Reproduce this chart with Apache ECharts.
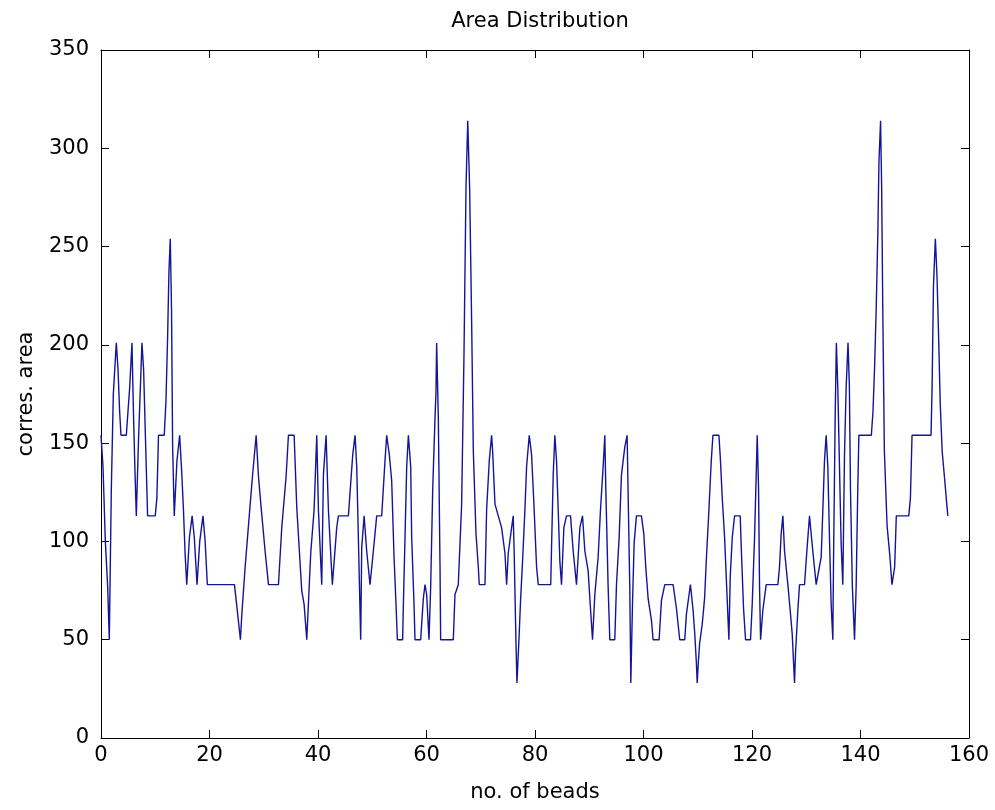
<!DOCTYPE html>
<html>
<head>
<meta charset="utf-8">
<script src="https://cdn.jsdelivr.net/npm/echarts@6/dist/echarts.min.js"></script>
<style>
html,body{margin:0;padding:0;background:#fff;}
#chart{width:995px;height:810px;}
</style>
</head>
<body>
<div id="chart"></div>
<script>
const titleText = 'Area Distribution';
const xName = 'no. of beads';
const yName = 'corres. area';
const xTicks = [0, 20, 40, 60, 80, 100, 120, 140, 160];
const yTicks = [0, 50, 100, 150, 200, 250, 300, 350];

// vertices of the trace: bead position and area
const beadNo = [
  0, 0.37, 0.8, 1.23, 1.53, 1.78, 1.9, 2.27, 2.82, 3.13, 3.44, 3.68, 4.67, 4.97, 5.28, 5.71, 6.02, 6.26, 6.51, 6.94,
  7.24, 7.55, 7.86, 8.16, 8.59, 10.0, 10.3, 10.6, 11.66, 11.97, 12.28, 12.52, 12.77, 13.0, 13.2, 13.5, 14.0, 14.5, 14.9, 15.2,
  15.5, 15.8, 16.3, 16.8, 17.2, 17.7, 18.2, 18.8, 19.2, 19.6, 24.6, 25.0, 25.7,
  25.96, 26.57, 27.5, 27.92, 28.6, 29.03, 29.46, 30.25, 30.87, 32.71, 33.32, 34.12, 34.55, 35.6, 36.09, 37.0, 37.44, 37.93,
  38.66, 39.28, 39.77, 40.08, 40.69, 41.0, 41.49, 41.92, 42.65, 43.45, 43.76, 45.6, 46.4, 46.83, 47.14, 47.44, 47.87, 48.06,
  48.5, 48.98, 49.59, 50.2, 50.82, 51.74, 52.35, 52.66, 53.15, 53.58,
  54.02, 54.38, 54.63, 55.6, 55.74, 56.04, 56.35, 56.66, 57.09, 57.27, 57.7, 57.88, 58.93, 59.11, 59.42, 59.73, 60.03, 60.46,
  60.77, 61.14, 61.57, 61.75, 61.87, 62.18, 62.49, 62.61, 64.94, 65.25, 65.86, 66.48, 66.91, 67.28, 67.6, 67.95, 68.32, 68.63,
  69.12, 69.55, 69.73, 70.78, 71.08, 71.57, 72.0, 72.19, 72.62, 73.23, 73.84, 74.46, 74.77, 75.07, 75.69, 75.99, 76.18, 76.48,
  76.67, 77.04, 77.34, 77.71, 78.14, 78.45, 78.94, 79.37, 79.8, 80.29, 80.6,
  82.9, 83.05, 83.36, 83.66, 83.97, 84.28, 84.58, 84.89, 85.32, 85.81, 86.55, 87.04, 87.65, 88.27, 88.76, 89.19, 89.8, 90.11,
  90.6, 91.03, 91.64, 92.07, 92.56, 92.87, 93.05, 93.48, 93.79, 94.71, 95.02, 95.51, 95.94, 96.55, 96.98, 97.17, 97.47, 97.66,
  97.97, 98.27, 98.7, 99.62, 100.05, 100.42, 100.85, 101.46, 101.77, 102.88, 103.31, 103.92, 105.46, 106.07, 106.68, 107.6,
  107.91, 108.4, 108.65, 109.14, 109.45, 109.75, 109.9,
  110.1, 110.34, 110.83, 111.26, 111.57, 112.06, 112.49, 112.8, 113.9, 114.15, 114.52, 114.95, 115.25, 115.74, 115.99, 116.36,
  116.79, 117.83, 118.02, 118.44, 118.81, 119.73, 120.04, 120.47, 120.78, 120.96, 121.21, 121.39, 121.58, 122.0, 122.62,
  124.77, 125.07, 125.38, 125.69, 126.0, 126.61, 127.04, 127.41, 127.84, 128.02, 128.45, 128.76, 129.68, 130.11, 130.6,
  131.21, 131.83, 132.75, 133.06, 133.36, 133.67, 133.98, 134.28, 134.59, 134.9, 135.02, 135.33, 135.55, 135.82, 136.12,
  136.43, 136.74, 137.05, 137.35, 137.7,
  137.95, 138.15, 138.5, 138.9, 139.2, 139.5, 139.7, 142.0, 142.3, 142.6, 142.9, 143.2, 143.4, 143.7, 143.9, 144.1, 144.4,
  144.9, 145.4, 145.8, 146.3, 146.6, 148.9, 149.2, 149.5, 153.0, 153.2, 153.45, 153.8, 154.1, 154.4, 154.7, 155.05, 155.5,
  155.9, 156.1
];
const area = [
  154, 138, 100, 77, 50, 50, 126, 175, 201, 188, 166, 154, 154, 166, 178, 201, 161, 136, 113, 154,
  177, 201, 187, 156, 113, 113, 122, 154, 154, 171, 204, 237, 254, 218, 149, 113, 141, 154, 134, 116,
  94, 78, 102, 113, 102, 78, 100, 113, 100, 78, 78, 68, 50,
  63, 87, 119, 133, 154, 133, 119, 95, 78, 78, 107, 133, 154, 154, 117, 75, 68, 50,
  94, 116, 154, 116, 78, 134, 154, 116, 78, 107, 113, 113, 144, 154, 138, 102, 50, 97,
  113, 95, 78, 95, 113, 113, 141, 154, 144, 131,
  92, 68, 50, 50, 68, 102, 138, 154, 138, 102, 68, 50, 50, 58, 71, 78, 73, 50,
  77, 126, 163, 176, 201, 163, 88, 50, 50, 73, 78, 119, 195, 280, 314, 280, 212, 146,
  104, 87, 78, 78, 116, 141, 154, 146, 119, 113, 107, 94, 78, 94, 107, 113, 92, 50,
  28, 50, 70, 90, 116, 138, 154, 144, 119, 87, 78,
  78, 97, 134, 154, 141, 116, 90, 78, 107, 113, 113, 95, 78, 107, 113, 95, 85, 71,
  50, 73, 92, 116, 138, 154, 127, 77, 50, 50, 78, 102, 134, 148, 154, 124, 77, 28,
  68, 99, 113, 113, 104, 87, 71, 60, 50, 50, 70, 78, 78, 66, 50, 50,
  63, 73, 78, 65, 53, 38, 28,
  38, 48, 58, 71, 90, 116, 141, 154, 154, 143, 122, 102, 82, 50, 82, 102,
  113, 113, 97, 66, 50, 50, 68, 102, 134, 154, 127, 77, 50, 65, 78,
  78, 87, 104, 113, 95, 78, 65, 53, 28, 43, 65, 78, 78, 95, 113,
  95, 78, 92, 116, 141, 154, 138, 102, 68, 50, 88, 163, 201, 178, 139,
  99, 78, 144, 178, 201,
  179, 127, 77, 50, 77, 127, 154, 154, 166, 189, 219, 257, 293, 314, 280, 220, 146,
  108, 93, 78, 87, 113, 113, 122, 154, 154, 179, 230, 254, 235, 204, 170, 146, 132,
  119, 113
];

const seriesData = beadNo.map((x, i) => [x, area[i]]);

const FONT = 'DejaVu Sans';
const labelStyle = { color: '#000', fontFamily: FONT, fontSize: 21 };

const chart = echarts.init(document.getElementById('chart'), null, { renderer: 'canvas' });

function axisCommon(minV, maxV, step) {
  return {
    type: 'value', min: minV, max: maxV, interval: step,
    axisLine: { show: true, onZero: false, lineStyle: { color: '#000', width: 1 } },
    axisTick: { show: true, inside: true, length: 8, lineStyle: { color: '#000', width: 1 } },
    splitLine: { show: false }
  };
}

const option = {
  backgroundColor: '#ffffff',
  animation: false,
  title: {
    text: titleText, left: 535, top: 6, textAlign: 'center',
    textStyle: { color: '#000', fontFamily: FONT, fontSize: 21, fontWeight: 'normal' }
  },
  grid: { left: 101, right: 26, top: 50, bottom: 72, containLabel: false },
  xAxis: [
    Object.assign(axisCommon(xTicks[0], xTicks[xTicks.length - 1], xTicks[1] - xTicks[0]), {
      position: 'bottom',
      name: xName, nameLocation: 'middle', nameGap: 44,
      nameTextStyle: labelStyle,
      axisLabel: Object.assign({ margin: 7 }, labelStyle)
    }),
    Object.assign(axisCommon(xTicks[0], xTicks[xTicks.length - 1], xTicks[1] - xTicks[0]), {
      position: 'top', axisLabel: { show: false }
    })
  ],
  yAxis: [
    Object.assign(axisCommon(yTicks[0], yTicks[yTicks.length - 1], yTicks[1] - yTicks[0]), {
      position: 'left',
      name: yName, nameLocation: 'middle', nameGap: 64, nameRotate: 90,
      nameTextStyle: labelStyle,
      axisLabel: Object.assign({ margin: 12 }, labelStyle)
    }),
    Object.assign(axisCommon(yTicks[0], yTicks[yTicks.length - 1], yTicks[1] - yTicks[0]), {
      position: 'right', axisLabel: { show: false }
    })
  ],
  series: [{
    type: 'line',
    xAxisIndex: 0, yAxisIndex: 0,
    data: seriesData,
    showSymbol: false,
    symbol: 'none',
    lineStyle: { color: '#14149a', width: 1.4 },
    z: 3
  }]
};
chart.setOption(option);
</script>
</body>
</html>
